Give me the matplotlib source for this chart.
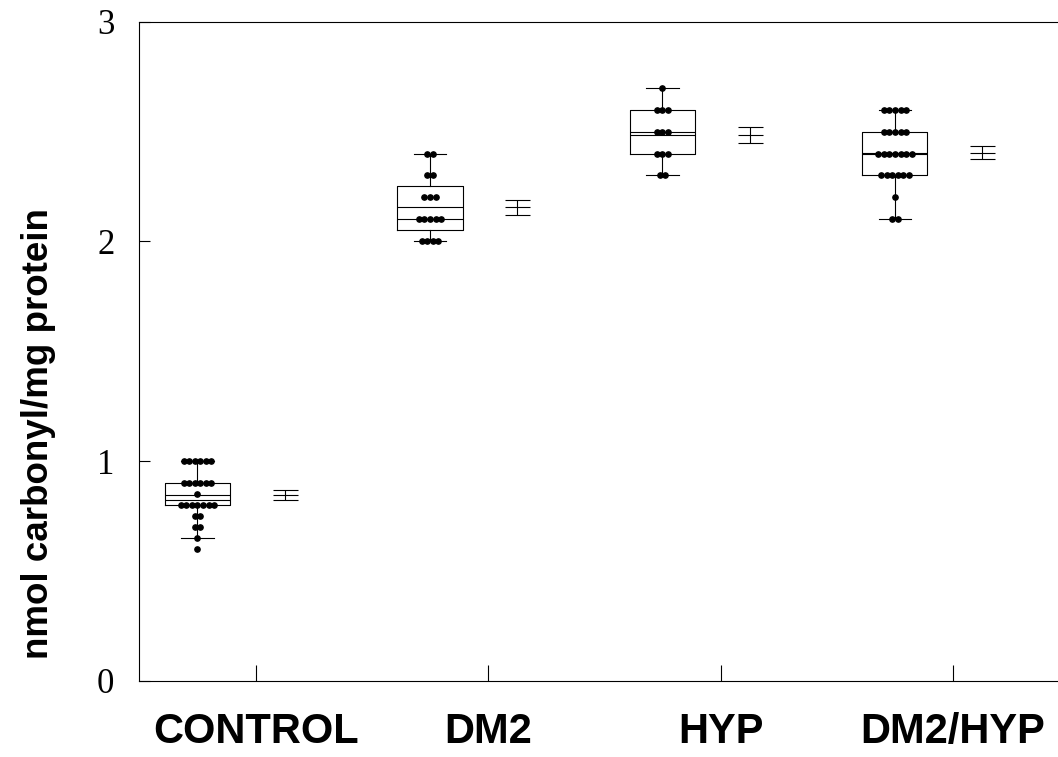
import numpy as np
import matplotlib
matplotlib.use("Agg")
import matplotlib.pyplot as plt
from matplotlib import font_manager

# values (nmol carbonyl/mg protein)
groups = ["CONTROL", "DM2", "HYP", "DM2/HYP"]
control = [1.0, 1.0, 1.0, 1.0, 1.0, 1.0,
           0.9, 0.9, 0.9, 0.9, 0.9, 0.9,
           0.85,
           0.8, 0.8, 0.8, 0.8, 0.8, 0.8, 0.8,
           0.75, 0.75, 0.7, 0.7, 0.65, 0.6]
dm2 = [2.4, 2.4, 2.3, 2.3, 2.2, 2.2, 2.2,
       2.1, 2.1, 2.1, 2.1, 2.1,
       2.0, 2.0, 2.0, 2.0]
hyp = [2.7, 2.6, 2.6, 2.6, 2.5, 2.5, 2.5,
       2.4, 2.4, 2.4, 2.3, 2.3]
dm2_hyp = [2.6, 2.6, 2.6, 2.6, 2.6,
           2.5, 2.5, 2.5, 2.5, 2.5,
           2.4, 2.4, 2.4, 2.4, 2.4, 2.4, 2.4,
           2.3, 2.3, 2.3, 2.3, 2.3, 2.3,
           2.2, 2.1, 2.1]
data = [control, dm2, hyp, dm2_hyp]
yticks = [0, 1, 2, 3]

names = {f.name for f in font_manager.fontManager.ttflist}
narrow = "Liberation Sans Narrow" if "Liberation Sans Narrow" in names else "Liberation Sans"


def hinge_stats(vals):
    # Tukey hinges, whiskers to last point within 1.5 IQR
    v = np.sort(np.asarray(vals, dtype=float))
    q1, med, q3 = np.percentile(v, [25, 50, 75], method="midpoint")
    iqr = q3 - q1
    lo = v[v >= q1 - 1.5 * iqr - 1e-9].min()
    hi = v[v <= q3 + 1.5 * iqr + 1e-9].max()
    return dict(med=med, q1=q1, q3=q3, whislo=lo, whishi=hi, mean=v.mean(), fliers=[])


fig = plt.figure(figsize=(10.58, 7.57), dpi=100)
ax = fig.add_axes([0.1317, 0.1004, 0.879, 0.871])

x = np.arange(1, len(groups) + 1)
box_off = -0.25
se_off = 0.125
lw = 0.8

stats = [hinge_stats(d) for d in data]
ax.bxp(stats, positions=x + box_off, widths=0.28, showmeans=True, meanline=True,
       showfliers=False, manage_ticks=False,
       boxprops=dict(color="black", linewidth=lw),
       whiskerprops=dict(color="black", linewidth=lw),
       capprops=dict(color="black", linewidth=lw),
       medianprops=dict(color="black", linewidth=lw),
       meanprops=dict(color="black", linewidth=lw, linestyle="-"))

# dot rows centred on the box
step = 0.024
for xi, d in zip(x + box_off, data):
    vals, counts = np.unique(d, return_counts=True)
    for v, n in zip(vals, counts):
        xs = xi + (np.arange(n) - (n - 1) / 2) * step
        ax.plot(xs, np.full(n, v), "o", color="black", markersize=3.8, zorder=3)

# mean +/- SE
means = np.array([np.mean(d) for d in data])
ses = np.array([np.std(d, ddof=1) / np.sqrt(len(d)) for d in data])
ax.errorbar(x + se_off, means, yerr=ses, fmt="_", color="black", markersize=18,
            markeredgewidth=lw, elinewidth=lw, capsize=9, capthick=lw)

ax.set_xlim(0.5, 4.5)
ax.set_ylim(0, 3)
ax.set_xticks(x)
ax.set_xticklabels(groups, family="Liberation Sans", fontweight="bold", fontsize=30)
ax.set_yticks(yticks)
ax.set_yticklabels([str(t) for t in yticks], family="Liberation Serif", fontsize=25)
ax.tick_params(axis="x", direction="in", length=11.5, width=lw, pad=22)
ax.tick_params(axis="y", direction="in", length=8, width=lw, pad=18)
for side in ["left", "bottom", "top"]:
    ax.spines[side].set_linewidth(lw)
ax.spines["right"].set_visible(False)

ax.set_ylabel("nmol carbonyl/mg protein", family=narrow, fontweight="bold",
              fontsize=32 if narrow != "Liberation Sans" else 26.5, va="center")
ax.yaxis.set_label_coords(-0.108, 0.376)

fig.savefig("out.png", dpi=100)
